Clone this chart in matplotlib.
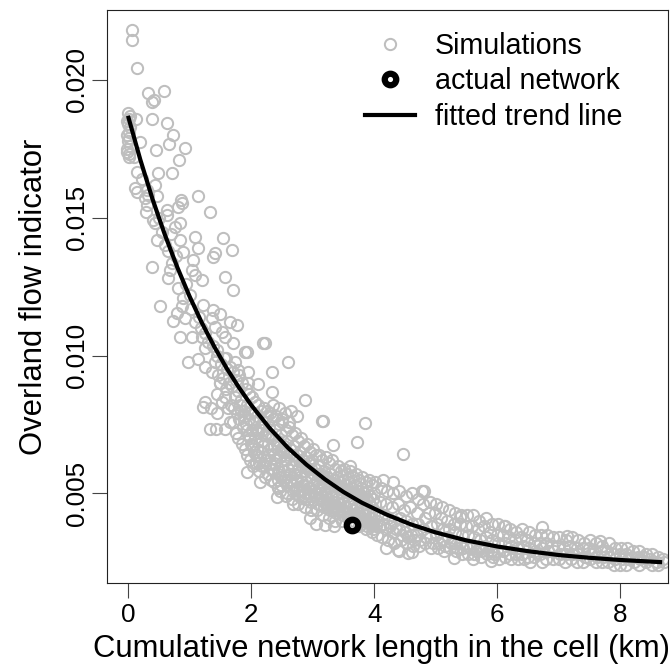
import numpy as np
import matplotlib
matplotlib.use("Agg")
import matplotlib.pyplot as plt
from matplotlib.lines import Line2D

plt.rcParams['font.family'] = ['Liberation Sans', 'DejaVu Sans']

# simulated networks: (network length km, overland flow indicator * 1e3)
sim_zero = [(0.00, 18.8), (0.02, 18.6), (-0.01, 18.5), (0.03, 18.3), (0.01, 18.1),
            (-0.02, 18.0), (0.02, 17.9), (0.00, 17.8), (0.03, 17.6), (-0.01, 17.5),
            (0.01, 17.3), (0.02, 17.2), (0.00, 18.4), (-0.02, 17.4), (0.04, 18.7)]

sim_upper = [(0.07, 21.8), (0.07, 21.45), (0.15, 20.43), (0.33, 19.53), (0.59, 19.6),
             (0.39, 19.2), (0.42, 19.28), (0.13, 18.59), (0.39, 18.59), (0.63, 18.44),
             (0.73, 18.01), (0.67, 17.68), (0.93, 17.54), (0.46, 17.46), (0.2, 17.75),
             (0.83, 17.1), (0.72, 16.63), (0.49, 16.63), (0.15, 16.67), (0.11, 16.09),
             (0.31, 16.01), (0.44, 16.2), (1.14, 15.8), (0.86, 15.65), (0.15, 15.94),
             (0.33, 15.83), (0.47, 15.8), (0.88, 15.54), (0.81, 15.4), (0.63, 15.29),
             (1.33, 15.22), (0.31, 15.47), (0.41, 14.93), (0.44, 14.82), (0.63, 15.11),
             (0.85, 14.82), (0.76, 14.67), (1.09, 14.31), (0.47, 14.2), (0.85, 14.2),
             (1.54, 14.28), (1.69, 13.84), (1.41, 13.73), (1.38, 13.59), (1.14, 13.91),
             (0.89, 13.77), (1.06, 13.48), (0.72, 13.37), (0.68, 13.12), (0.39, 13.22),
             (1.04, 13.12), (1.09, 12.93), (1.2, 12.75), (0.65, 12.83), (1.58, 12.86),
             (1.71, 12.39), (0.81, 12.46), (0.89, 12.1), (0.52, 11.81), (1.22, 11.85),
             (0.88, 11.78), (0.8, 11.56), (0.73, 11.27), (0.93, 11.38), (1.09, 11.2),
             (1.38, 11.67), (1.5, 11.49), (1.37, 11.38), (1.66, 11.23), (1.77, 11.12),
             (1.41, 11.05), (1.25, 10.83), (1.53, 10.87), (0.85, 10.69), (1.04, 10.69),
             (1.2, 10.69), (1.58, 10.69), (1.71, 10.47), (1.38, 10.33), (1.25, 10.29),
             (2.2, 10.47), (1.9, 10.14), (0.98, 9.78), (1.14, 9.86), (1.25, 9.6),
             (1.41, 9.75), (1.37, 9.42), (1.74, 9.75), (1.79, 9.49), (1.95, 9.42),
             (1.5, 9.02), (1.95, 9.02), (2.11, 8.95),
             (0.1, 17.2), (0.22, 16.4), (0.27, 15.7), (0.3, 15.2), (0.5, 15.0),
             (0.55, 14.5), (0.6, 14.0), (0.65, 13.8), (0.7, 14.4), (0.78, 13.6),
             (0.95, 12.6), (1.0, 12.2), (1.02, 11.7), (1.15, 11.4), (1.18, 11.0),
             (1.3, 10.5), (1.45, 10.2), (1.6, 9.9)]

sim_scatter = [(2.23, 10.47), (2.6, 9.75), (2.34, 9.42), (1.93, 10.14), (2.34, 8.66),
               (2.88, 8.37), (3.15, 7.64), (3.33, 6.74), (3.72, 6.85), (3.17, 7.61),
               (3.85, 7.54), (4.47, 6.41), (3.61, 5.98), (4.78, 5.07),
               (1.22, 8.15), (1.33, 7.32), (1.43, 7.32), (1.58, 7.32), (1.25, 8.3),
               (1.35, 8.1), (1.45, 7.9), (1.93, 5.76), (2.15, 5.42), (2.42, 4.86),
               (2.68, 4.6), (4.62, 2.86), (2.26, 8.0), (2.35, 8.2), (2.45, 8.1),
               (2.55, 7.9), (2.65, 8.0), (2.75, 7.8), (2.62, 7.6), (2.5, 7.7),
               (2.95, 4.1), (3.05, 3.9), (3.2, 3.85), (3.35, 3.8), (4.2, 3.0),
               (4.4, 2.9), (4.55, 2.85), (4.15, 5.5), (4.3, 5.4), (5.3, 2.65),
               (5.6, 2.6), (5.9, 2.55), (6.13, 3.81), (6.73, 3.77), (7.14, 3.44),
               (7.67, 3.26), (5.4, 4.13)]

band_a = [(1.45, 10.0), (1.47, 9.3), (1.44, 8.6), (1.51, 9.7), (1.49, 9.0), (1.52, 8.3),
          (1.56, 9.9), (1.54, 9.2), (1.57, 8.5), (1.61, 9.5), (1.59, 8.8), (1.62, 8.1),
          (1.66, 9.6), (1.64, 9.0), (1.67, 8.2), (1.65, 7.6), (1.71, 9.4), (1.69, 8.9),
          (1.72, 8.1), (1.70, 7.6), (1.76, 9.1), (1.74, 8.5), (1.77, 7.9), (1.75, 7.2),
          (1.81, 9.3), (1.79, 8.7), (1.82, 8.2), (1.80, 7.7), (1.78, 7.0), (1.86, 9.0),
          (1.84, 8.4), (1.87, 7.4), (1.85, 6.8), (1.91, 8.8), (1.89, 8.0), (1.92, 7.5),
          (1.90, 6.6), (1.96, 8.6), (1.94, 8.2), (1.97, 7.7), (1.95, 7.1), (1.93, 6.4),
          (2.01, 8.5), (1.99, 7.9), (2.02, 7.3), (2.00, 6.8), (1.98, 6.2), (2.06, 8.3),
          (2.04, 7.6), (2.07, 7.0), (2.05, 6.5), (2.03, 6.0), (2.11, 8.2), (2.09, 7.8),
          (2.12, 7.2), (2.10, 6.6), (2.08, 6.1), (2.16, 8.0), (2.14, 7.4), (2.17, 6.9),
          (2.15, 6.3), (2.13, 5.8), (2.21, 8.1), (2.19, 7.6), (2.22, 7.1), (2.20, 6.7),
          (2.18, 6.0), (2.23, 5.6), (2.26, 7.8), (2.24, 7.2), (2.27, 6.8), (2.25, 6.2),
          (2.28, 5.7), (2.31, 7.9), (2.29, 7.4), (2.32, 6.6), (2.30, 6.1), (2.33, 5.5),
          (2.36, 7.7), (2.34, 7.0), (2.37, 6.4), (2.35, 5.9), (2.38, 5.4), (2.41, 7.8),
          (2.39, 7.3), (2.42, 6.8), (2.40, 6.2), (2.43, 5.7), (2.44, 5.2), (2.46, 7.5),
          (2.44, 6.9), (2.47, 6.3), (2.45, 5.8), (2.48, 5.3), (2.51, 7.6), (2.49, 7.1),
          (2.52, 6.5), (2.50, 6.0), (2.53, 5.5), (2.47, 5.1)]

band_b = [(2.56, 7.3), (2.54, 6.7), (2.57, 6.2), (2.55, 5.6), (2.58, 5.0),
          (2.61, 7.4), (2.59, 6.9), (2.62, 6.4), (2.60, 5.9), (2.63, 5.4), (2.57, 4.9),
          (2.66, 7.1), (2.64, 6.6), (2.67, 6.0), (2.65, 5.5), (2.68, 5.1),
          (2.71, 7.2), (2.69, 6.7), (2.72, 6.2), (2.70, 5.7), (2.73, 5.2), (2.67, 4.8),
          (2.76, 6.9), (2.74, 6.4), (2.77, 5.9), (2.75, 5.4), (2.78, 4.9),
          (2.81, 7.0), (2.79, 6.5), (2.82, 6.0), (2.80, 5.6), (2.83, 5.1), (2.77, 4.6),
          (2.86, 6.7), (2.84, 6.2), (2.87, 5.8), (2.85, 5.3), (2.88, 4.8),
          (2.91, 6.8), (2.89, 6.3), (2.92, 5.9), (2.90, 5.4), (2.93, 5.0), (2.87, 4.5),
          (2.96, 6.5), (2.94, 6.1), (2.97, 5.6), (2.95, 5.2), (2.98, 4.7),
          (3.01, 6.6), (2.99, 6.2), (3.02, 5.7), (3.00, 5.3), (3.03, 4.9), (2.97, 4.4),
          (3.06, 6.4), (3.04, 5.9), (3.07, 5.5), (3.05, 5.0), (3.08, 4.6),
          (3.11, 6.4), (3.09, 6.0), (3.12, 5.6), (3.10, 5.2), (3.13, 4.8), (3.07, 4.4),
          (3.16, 6.2), (3.14, 5.7), (3.17, 5.3), (3.15, 4.9), (3.18, 4.5),
          (3.21, 6.3), (3.19, 5.8), (3.22, 5.4), (3.20, 5.0), (3.23, 4.6), (3.17, 4.2),
          (3.26, 6.1), (3.24, 5.6), (3.27, 5.2), (3.25, 4.8), (3.28, 4.4),
          (3.31, 6.2), (3.29, 5.7), (3.32, 5.3), (3.30, 4.9), (3.33, 4.5), (3.27, 4.1),
          (3.36, 5.9), (3.34, 5.5), (3.37, 5.1), (3.35, 4.7), (3.38, 4.3),
          (3.41, 6.0), (3.39, 5.6), (3.42, 5.2), (3.40, 4.8), (3.43, 4.4), (3.37, 4.0),
          (3.46, 5.8), (3.44, 5.4), (3.47, 5.0), (3.45, 4.6), (3.48, 4.2),
          (3.51, 5.9), (3.49, 5.5), (3.52, 5.1), (3.50, 4.7), (3.53, 4.3), (3.47, 4.0),
          (3.56, 5.7), (3.54, 5.3), (3.57, 4.9), (3.55, 4.5), (3.58, 4.1),
          (3.61, 5.8), (3.59, 5.4), (3.62, 5.0), (3.60, 4.6), (3.63, 4.2),
          (3.66, 5.6), (3.64, 5.2), (3.67, 4.8), (3.65, 4.4), (3.68, 4.0),
          (3.71, 5.7), (3.69, 5.3), (3.72, 4.9), (3.70, 4.5), (3.73, 4.1), (3.76, 3.8),
          (3.76, 5.5), (3.74, 5.1), (3.77, 4.7), (3.75, 4.3), (3.78, 3.9),
          (3.81, 5.6), (3.79, 5.2), (3.82, 4.8), (3.80, 4.4), (3.83, 4.0), (3.86, 3.7),
          (3.86, 5.4), (3.84, 5.0), (3.87, 4.6), (3.85, 4.2), (3.88, 3.8),
          (3.91, 5.5), (3.89, 5.1), (3.92, 4.7), (3.90, 4.3), (3.93, 3.9), (3.96, 3.6),
          (3.96, 5.3), (3.94, 4.9), (3.97, 4.5), (3.95, 4.1), (3.98, 3.7),
          (4.01, 5.4), (3.99, 5.0), (4.02, 4.6), (4.00, 4.2), (4.03, 3.8), (4.05, 3.5)]

band_c = [(4.11, 5.2), (4.09, 4.7), (4.12, 4.2), (4.10, 3.8), (4.13, 3.4),
          (4.21, 5.1), (4.19, 4.6), (4.22, 4.1), (4.20, 3.7), (4.23, 3.3),
          (4.31, 5.0), (4.29, 4.5), (4.32, 4.0), (4.30, 3.6), (4.33, 3.2),
          (4.41, 5.1), (4.39, 4.6), (4.42, 4.1), (4.40, 3.7), (4.43, 3.3), (4.38, 2.95),
          (4.51, 4.9), (4.49, 4.4), (4.52, 4.0), (4.50, 3.6), (4.53, 3.2),
          (4.61, 5.0), (4.59, 4.5), (4.62, 3.9), (4.60, 3.5), (4.63, 3.1),
          (4.71, 4.8), (4.69, 4.3), (4.72, 3.9), (4.70, 3.5), (4.73, 3.1),
          (4.81, 5.1), (4.79, 4.6), (4.82, 4.1), (4.80, 3.7), (4.83, 3.2),
          (4.91, 4.7), (4.89, 4.3), (4.92, 3.8), (4.90, 3.4), (4.93, 3.0),
          (5.01, 4.6), (4.99, 4.3), (5.02, 3.9), (5.00, 3.5), (5.03, 3.0),
          (5.11, 4.5), (5.09, 4.1), (5.12, 3.7), (5.10, 3.3), (5.13, 2.9),
          (5.21, 4.4), (5.19, 4.0), (5.22, 3.7), (5.20, 3.4), (5.23, 3.0),
          (5.31, 4.3), (5.29, 3.9), (5.32, 3.6), (5.30, 3.2), (5.33, 2.9),
          (5.41, 4.2), (5.39, 3.9), (5.42, 3.5), (5.40, 3.2), (5.43, 2.8),
          (5.51, 4.2), (5.49, 3.8), (5.52, 3.5), (5.50, 3.1), (5.53, 2.8),
          (5.61, 4.2), (5.59, 3.8), (5.62, 3.4), (5.60, 3.1), (5.63, 2.8),
          (5.71, 4.0), (5.69, 3.7), (5.72, 3.3), (5.70, 3.0), (5.73, 2.7),
          (5.81, 4.1), (5.79, 3.8), (5.82, 3.4), (5.80, 3.1), (5.83, 2.8),
          (5.91, 3.9), (5.89, 3.6), (5.92, 3.3), (5.90, 2.9), (5.93, 2.7),
          (6.01, 3.9), (5.99, 3.5), (6.02, 3.2), (6.00, 2.9), (6.03, 2.6)]

band_d = [(6.11, 3.8), (6.09, 3.5), (6.12, 3.2), (6.10, 2.9), (6.13, 2.7),
          (6.21, 3.7), (6.19, 3.4), (6.22, 3.1), (6.20, 2.8), (6.23, 2.6),
          (6.31, 3.6), (6.29, 3.3), (6.32, 3.0), (6.30, 2.8), (6.33, 2.6),
          (6.41, 3.7), (6.39, 3.4), (6.42, 3.1), (6.40, 2.8), (6.43, 2.6),
          (6.51, 3.6), (6.49, 3.3), (6.52, 3.0), (6.50, 2.7), (6.53, 2.5),
          (6.61, 3.5), (6.59, 3.2), (6.62, 2.9), (6.60, 2.7),
          (6.71, 3.5), (6.69, 3.2), (6.72, 3.0), (6.70, 2.8), (6.73, 2.5),
          (6.81, 3.5), (6.79, 3.2), (6.82, 2.9), (6.80, 2.6),
          (6.91, 3.4), (6.89, 3.1), (6.92, 2.9), (6.90, 2.6),
          (7.01, 3.4), (6.99, 3.1), (7.02, 2.8), (7.00, 2.6),
          (7.11, 3.3), (7.09, 3.0), (7.12, 2.8), (7.10, 2.5),
          (7.21, 3.4), (7.19, 3.1), (7.22, 2.8), (7.20, 2.6),
          (7.31, 3.3), (7.29, 3.0), (7.32, 2.8), (7.30, 2.5),
          (7.41, 3.2), (7.39, 3.0), (7.42, 2.7), (7.40, 2.5),
          (7.51, 3.3), (7.49, 3.0), (7.52, 2.8), (7.50, 2.6),
          (7.61, 3.2), (7.59, 2.9), (7.62, 2.7), (7.60, 2.5),
          (7.71, 3.1), (7.69, 2.9), (7.72, 2.7), (7.70, 2.5),
          (7.81, 3.2), (7.79, 2.9), (7.82, 2.7), (7.80, 2.5),
          (7.91, 3.0), (7.89, 2.8), (7.92, 2.6), (7.90, 2.4),
          (8.01, 3.0), (7.99, 2.8), (8.02, 2.6), (8.00, 2.4),
          (8.11, 3.0), (8.09, 2.8), (8.12, 2.6), (8.10, 2.4),
          (8.21, 2.9), (8.19, 2.7), (8.22, 2.5),
          (8.31, 2.9), (8.29, 2.7), (8.32, 2.6), (8.30, 2.4),
          (8.41, 2.8), (8.39, 2.7), (8.42, 2.5),
          (8.51, 2.8), (8.49, 2.6), (8.52, 2.4),
          (8.61, 2.7), (8.59, 2.5), (8.62, 2.4),
          (8.69, 2.6), (8.71, 2.5)]

# extra simulations filling the densest part of the band
band_e = [(1.83, 8.0), (1.88, 7.8), (1.93, 7.3), (1.98, 7.0), (2.03, 6.7), (2.08, 6.4),
          (2.13, 6.1), (2.18, 6.5), (2.23, 6.0), (2.28, 6.4), (2.33, 5.9), (2.38, 6.1),
          (2.43, 5.5), (2.48, 5.6), (2.53, 5.8), (2.58, 5.3), (2.63, 5.7), (2.68, 5.3),
          (2.73, 5.5), (2.78, 5.1), (2.83, 5.4), (2.88, 5.0), (2.93, 5.2), (2.98, 4.9),
          (3.03, 5.1), (3.08, 4.8), (3.13, 5.0), (3.18, 4.7), (3.23, 4.8), (3.28, 4.6),
          (3.33, 4.7), (3.38, 4.5), (3.43, 4.6), (3.48, 4.4), (3.53, 4.5), (3.58, 4.3),
          (3.63, 4.6), (3.68, 4.2), (3.73, 4.3), (3.78, 4.1), (3.83, 4.2), (3.88, 4.0),
          (3.93, 4.1), (3.98, 3.9), (4.05, 4.0), (4.15, 3.9), (4.25, 3.8), (4.35, 3.7),
          (4.45, 3.5), (4.55, 3.4), (4.65, 3.3), (4.75, 3.3), (4.85, 3.4), (4.95, 3.2),
          (5.05, 3.2), (5.15, 3.1), (5.25, 3.2), (5.35, 3.0), (5.45, 3.0), (5.55, 3.0),
          (5.65, 2.9), (5.75, 2.9), (5.85, 2.9), (5.95, 2.8),
          (2.08, 7.3), (2.18, 7.3), (2.28, 7.1), (2.38, 6.7), (2.48, 6.6), (2.58, 6.5),
          (2.68, 6.4), (2.78, 6.2), (2.88, 6.0), (2.98, 5.9), (3.08, 5.7), (3.18, 5.6),
          (3.28, 5.4), (3.38, 5.3), (3.48, 5.2), (3.58, 5.1), (3.68, 5.0), (3.78, 4.9),
          (3.88, 4.8), (3.98, 4.8)]

# the real network
actual_x = [3.64]
actual_y = [3.84]

# fitted trend line, read at these lengths
trend_x = [0.0, 0.2, 0.4, 0.6, 0.8, 1.0, 1.2, 1.4, 1.6, 1.8, 2.0, 2.3, 2.6, 2.9,
           3.2, 3.5, 3.8, 4.2, 4.6, 5.0, 5.5, 6.0, 6.5, 7.0, 7.5, 8.0, 8.68]
trend_y = [18.70, 17.11, 15.67, 14.38, 13.21, 12.15, 11.19, 10.33, 9.55, 8.85,
           8.21, 7.37, 6.65, 6.04, 5.51, 5.05, 4.66, 4.23, 3.87, 3.58, 3.29,
           3.07, 2.90, 2.76, 2.66, 2.58, 2.50]

grey = '#BEBEBE'
sims = sim_zero + sim_upper + sim_scatter + band_a + band_b + band_e + band_c + band_d
sx, sy = zip(*sims)
sx = np.array(sx)
sy = np.array(sy) * 1e-3

fig = plt.figure(figsize=(6.7, 6.69), dpi=100)
ax = fig.add_axes([107 / 670, 1 - 582.7 / 669, 561 / 670, 572.7 / 669])

ax.plot(sx, sy, linestyle='none', marker='o', markersize=8.1, markerfacecolor='none',
        markeredgecolor=grey, markeredgewidth=1.45)
ax.plot(trend_x, np.array(trend_y) * 1e-3, color='black', linewidth=3.0,
        solid_capstyle='butt')
ax.plot(actual_x, np.array(actual_y) * 1e-3, linestyle='none', marker='o',
        markersize=8.3, markerfacecolor='none', markeredgecolor='black',
        markeredgewidth=4.5)

ax.set_xlim(-0.341, 8.775)
ax.set_ylim(0.001756, 0.02254)
ax.set_xticks([0, 2, 4, 6, 8])
ax.set_yticks([0.005, 0.010, 0.015, 0.020])
ax.set_yticklabels(['0.005', '0.010', '0.015', '0.020'], rotation=90, va='center')

for s in ax.spines.values():
    s.set_linewidth(0.8)
    s.set_color('#222222')
ax.tick_params(direction='out', length=10.8, width=0.8, color='#444444', labelsize=18.7)
ax.tick_params(axis='x', pad=3.5)
ax.tick_params(axis='y', pad=2.5)

ax.set_xlabel('Cumulative network length in the cell (km)', fontsize=22.3)
ax.set_ylabel('Overland flow indicator', fontsize=22.3)
ax.xaxis.set_label_coords(0.489, -0.0896)
ax.yaxis.set_label_coords(-0.104, 0.5)

handles = [Line2D([], [], linestyle='none', marker='o', markersize=8.1, markerfacecolor='none',
                  markeredgecolor=grey, markeredgewidth=1.45),
           Line2D([], [], linestyle='none', marker='o', markersize=8.3, markerfacecolor='none',
                  markeredgecolor='black', markeredgewidth=4.5),
           Line2D([], [], color='black', linewidth=3.0)]
ax.legend(handles, ['Simulations', 'actual network', 'fitted trend line'],
          loc='upper left', bbox_to_anchor=(365 / 670, 1 - 32 / 669),
          bbox_transform=fig.transFigure, frameon=False, borderpad=0, borderaxespad=0,
          handlelength=1.75, handletextpad=0.7, labelspacing=0.26, fontsize=20.6,
          numpoints=1)

fig.savefig('out.png', dpi=100)
